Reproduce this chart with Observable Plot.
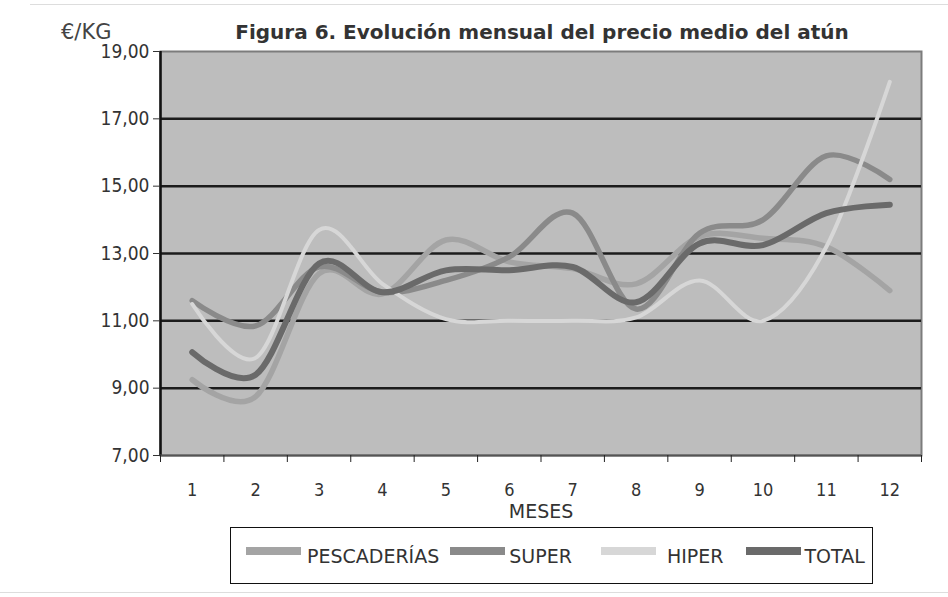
<!DOCTYPE html>
<html>
<head>
<meta charset="utf-8">
<script src="https://cdn.jsdelivr.net/npm/d3@7"></script>
<script src="https://cdn.jsdelivr.net/npm/@observablehq/plot@0.6"></script>
<style>
  html, body { margin: 0; padding: 0; background: #fff; }
  #wrap { position: relative; width: 948px; height: 597px; overflow: hidden; font-family: "DejaVu Sans", sans-serif; }
  #kg { position: absolute; left: 61px; top: 20px; font-size: 21px; color: #444; line-height: 24px; }
  #title { position: absolute; left: 160px; width: 764px; top: 21px; text-align: center; font-size: 20px; font-weight: bold; color: #333; line-height: 22px; }
  #chart { position: absolute; left: 0; top: 0; }
  #legend { position: absolute; left: 230px; top: 527px; width: 643px; height: 57px; border: 1.5px solid #111; display: flex; align-items: center; padding-left: 15px; box-sizing: border-box; font-size: 19px; color: #333; white-space: nowrap; overflow: hidden; }
  .item { display: flex; align-items: center; flex: none; }
  .sw { width: 55px; height: 8px; margin-top: -10px; }
  .lab { margin-left: 6px; }
  #topline { position: absolute; left: 30px; right: 0; top: 4px; height: 1px; background: #ddd; }
  #botline { position: absolute; left: 0; right: 0; top: 592px; height: 1px; background: #ddd; }
</style>
</head>
<body>
<div id="wrap">
  <div id="topline"></div>
  <div id="botline"></div>
  <div id="chart"></div>
  <div id="kg">€/KG</div>
  <div id="title">Figura 6. Evolución mensual del precio medio del atún</div>
  <div id="legend"></div>
</div>
<script>
// ---- data ----
const months = [1, 2, 3, 4, 5, 6, 7, 8, 9, 10, 11, 12];
const seriesNames = ["PESCADERÍAS", "SUPER", "HIPER", "TOTAL"];
const seriesColors = ["#a4a4a4", "#8a8a8a", "#d7d7d7", "#6a6a6a"];
const pescaderias = [9.25, 8.75, 12.4, 11.8, 13.4, 12.75, 12.55, 12.1, 13.5, 13.45, 13.2, 11.9];
const superm      = [11.6, 10.85, 12.6, 11.85, 12.2, 12.9, 14.2, 11.35, 13.6, 14.0, 15.9, 15.2];
const hiper       = [11.5, 9.9, 13.7, 12.1, 11.05, 11.0, 11.0, 11.1, 12.2, 11.0, 13.2, 18.1];
const total       = [10.07, 9.4, 12.7, 11.85, 12.5, 12.5, 12.6, 11.55, 13.3, 13.25, 14.2, 14.45];
const yTicks = [7, 9, 11, 13, 15, 17, 19];
const gridValues = [9, 11, 13, 15, 17];
const xLabel = "MESES";

const seriesValues = [pescaderias, superm, hiper, total];
const seriesWidths = [5.5, 5.5, 4, 6];

const rows = seriesNames.map((name, s) =>
  months.map((m, i) => ({series: name, month: m, value: seriesValues[s][i]}))
);
const boundaries = months.map(m => m - 0.5).concat([months[months.length - 1] + 0.5]);

const fmt = d => d.toFixed(2).replace(".", ",");
const condensed = '"DejaVu Sans Condensed", "DejaVu Sans", sans-serif';

const chart = Plot.plot({
  width: 948,
  height: 527,
  marginLeft: 160,
  marginRight: 27,
  marginTop: 51,
  marginBottom: 72,
  style: {fontFamily: '"DejaVu Sans", sans-serif', background: "transparent", overflow: "visible"},
  x: {domain: [0.5, 12.5], axis: null},
  y: {domain: [7, 19], axis: null},
  marks: [
    Plot.frame({fill: "#bdbdbd", stroke: "#7c7c7c", strokeWidth: 2}),
    Plot.ruleY(gridValues, {stroke: "#1c1c1c", strokeWidth: 2.5}),
    ...rows.map((data, s) => Plot.line(data, {
      x: "month", y: "value", stroke: seriesColors[s], strokeWidth: seriesWidths[s], curve: "cardinal"
    })),
    Plot.ruleX([0.5], {stroke: "#111", strokeWidth: 2.5}),
    Plot.ruleY([7], {stroke: "#555", strokeWidth: 2}),
    Plot.axisY({ticks: yTicks, tickFormat: fmt, tickSize: 7, tickPadding: 4, fontSize: 19, fontFamily: condensed, color: "#333", label: null}),
    Plot.axisX({ticks: boundaries, tickFormat: () => "", tickSize: 7, color: "#222", label: null}),
    Plot.axisX({ticks: months, tickFormat: d => String(d), tickSize: 0, tickPadding: 28, fontSize: 18, fontFamily: condensed, color: "#333", label: null}),
    Plot.text([xLabel], {frameAnchor: "bottom", dy: 62, fontSize: 19, fill: "#333"})
  ]
});
document.getElementById("chart").appendChild(chart);

// ---- legend ----
const legend = document.getElementById("legend");
const gaps = [11, 29, 22, 0];
const labGaps = [6, 4, 11, 4];
seriesNames.forEach((name, s) => {
  const item = document.createElement("div");
  item.className = "item";
  item.style.marginRight = gaps[s] + "px";
  const sw = document.createElement("div");
  sw.className = "sw";
  sw.style.background = seriesColors[s];
  const lab = document.createElement("span");
  lab.className = "lab";
  lab.style.marginLeft = labGaps[s] + "px";
  lab.textContent = name;
  item.appendChild(sw);
  item.appendChild(lab);
  legend.appendChild(item);
});
</script>
</body>
</html>
